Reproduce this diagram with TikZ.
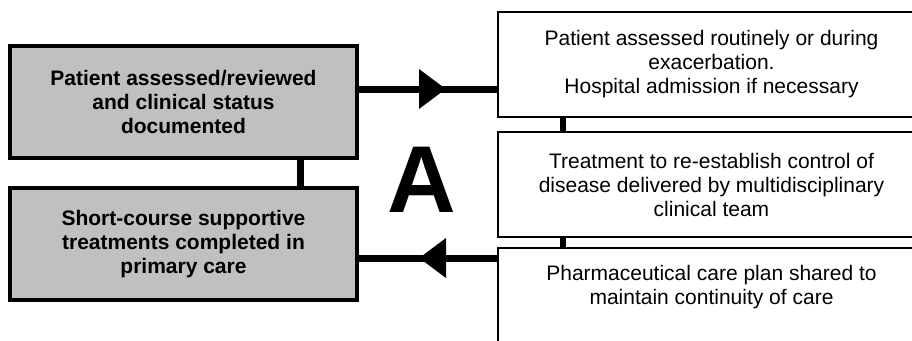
\documentclass[tikz,border=0pt]{standalone}
\usepackage{fontspec}
\setmainfont{Liberation Sans}
\usetikzlibrary{arrows.meta}

\definecolor{lgray}{HTML}{C0C0C0}
\tikzset{
  graybox/.style={draw=black, line width=4pt, fill=lgray, rectangle,
    minimum width=347pt, minimum height=112pt, inner sep=0pt, outer sep=0pt,
    align=center, font=\fontsize{21}{24}\selectfont\bfseries},
  whitebox/.style={draw=black, line width=2pt, fill=white, rectangle,
    minimum width=427pt, minimum height=105pt, inner sep=0pt, outer sep=0pt,
    align=center, font=\fontsize{21}{24}\selectfont},
  link/.style={line width=7pt, black},
  thinlink/.style={line width=6pt, black},
  bighead/.style={-{Triangle[length=27pt,width=38pt]}},
}

\begin{document}
\begin{tikzpicture}[x=1pt,y=-1pt]
  \useasboundingbox (0,0) rectangle (912,340);
  \clip (0,0) rectangle (912,340);

  % helper coordinates for connector rows, columns and arrow tips
  \coordinate (rowUp) at (0,89);
  \coordinate (rowDown) at (0,258);
  \coordinate (colLeft) at (300,0);
  \coordinate (colRight) at (563,0);
  \coordinate (tipUp) at (446,89);
  \coordinate (tipDown) at (419,258);

  % left column
  \node[graybox] (g1) at (183.5,102) {Patient assessed/reviewed\\and clinical status\\documented};
  \node[graybox] (g2) at (183.5,244) {Short-course supportive\\treatments completed in\\primary care};

  % right column
  \node[whitebox] (r1) at (711.5,64.5) {Patient assessed routinely or during\\exacerbation.\\Hospital admission if necessary};
  \node[whitebox] (r2) at (711.5,184.5) {Treatment to re-establish control of\\disease delivered by multidisciplinary\\clinical team};
  \node[whitebox] (r3) at (711.5,300.5) {Pharmaceutical care plan shared to\\maintain continuity of care\\\strut};

  % vertical links between stacked boxes
  \draw[link] (g1.south -| colLeft) -- (g2.north -| colLeft);
  \draw[thinlink] (r1.south -| colRight) -- (r2.north -| colRight);
  \draw[thinlink] (r2.south -| colRight) -- (r3.north -| colRight);

  % horizontal arrows between the two columns, head part-way along
  \draw[link] (g1.east |- rowUp) -- (r1.west |- rowUp);
  \draw[link, bighead] (g1.east |- rowUp) -- (tipUp);
  \draw[link] (r3.west |- rowDown) -- (g2.east |- rowDown);
  \draw[link, bighead] (r3.west |- rowDown) -- (tipDown);

  % large panel letter
  \node[inner sep=0pt, font=\fontsize{95}{95}\selectfont\bfseries] (lbl) at (422,180) {A};
\end{tikzpicture}
\end{document}
